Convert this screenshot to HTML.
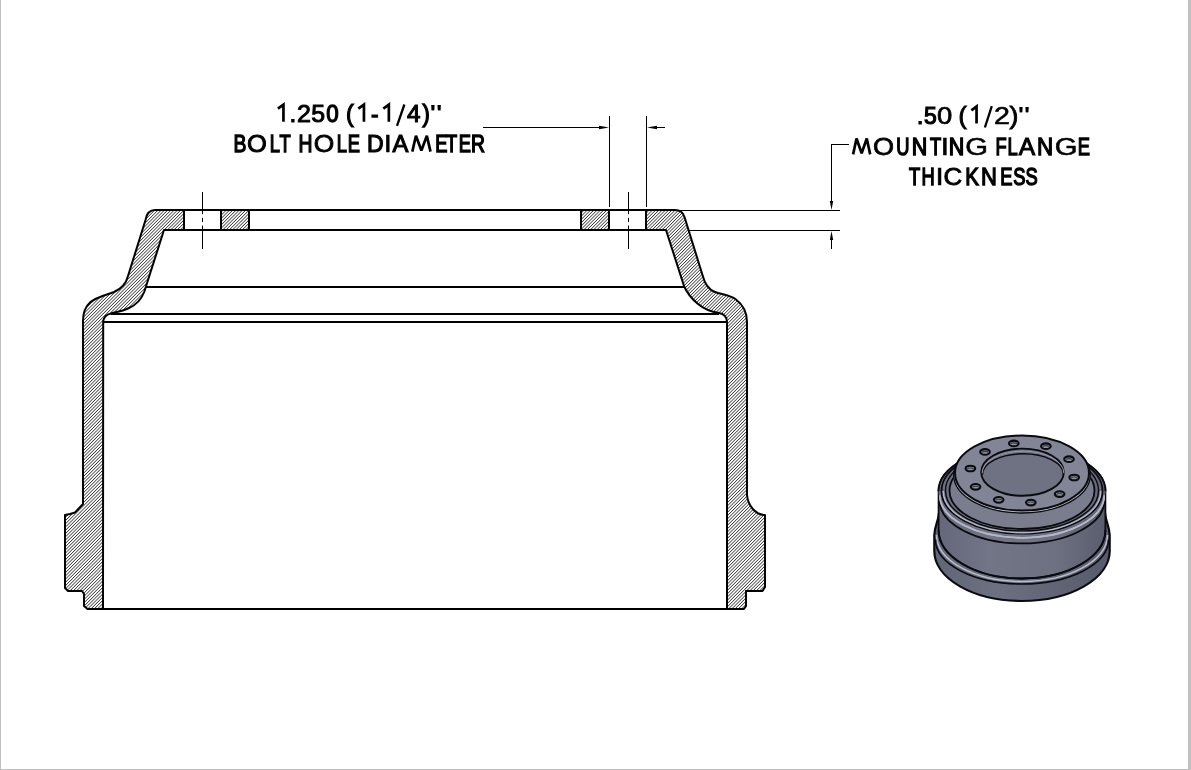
<!DOCTYPE html>
<html><head><meta charset="utf-8">
<style>
html,body{margin:0;padding:0;background:#fff;}
body{width:1191px;height:770px;overflow:hidden;position:relative;}
svg{position:absolute;left:0;top:0;}
.tx text{font-family:"Liberation Sans",sans-serif;font-size:24.4px;fill:#000;stroke:#000;stroke-width:1.05px;vector-effect:non-scaling-stroke;}
</style></head><body>
<svg width="1191" height="770" viewBox="0 0 1191 770">
<defs>
<pattern id="h" patternUnits="userSpaceOnUse" width="2.3" height="2.3" patternTransform="rotate(-45)">
<rect width="2.3" height="2.3" fill="#fff"/>
<rect x="0" y="0" width="2.3" height="0.65" fill="#111"/>
</pattern>
</defs>
<!-- frame -->
<rect x="0" y="0" width="1" height="770" fill="#c0c0c0"/>
<rect x="1188" y="0" width="3" height="770" fill="#c0c0c0"/>
<rect x="0" y="769" width="1191" height="1" fill="#c0c0c0"/>

<g stroke="#000" stroke-width="2" fill="none" stroke-linejoin="round">
<!-- left wall -->
<path fill="url(#h)" d="M156,210 L184,210 L184,230 L164,230 L144.2,292 C141,300 136,305 129,308 C122,311.5 115,312.3 111,313.4 C107,314.5 104,316.5 103.2,321 L103,609 L87.5,609 L84,606 L84,594 L82,591 L68,591 L65,588 L65,515 L70,514 L75,512.5 L83,504 L83,321 C83,313 85,307 90,302.5 C96,297 106,295 114,292 C121,289 126,284 128,276 L145.5,220 C146.5,214 149,210 155,210 Z"/>
<!-- right wall -->
<path fill="url(#h)" d="M646,210 L675,210 C680,210 683,212 684.5,217 L702.5,275 C704.5,283 708,289.5 715,292 C722,294.5 730,295 736,299.5 C742,304 747,312 747,322 L747,495 C748,505 755,515 765,515 L765,587 L762.5,591 L746,591 L746,606 L744,609 L727,609 L727,322 C727,317 724,314 719,313 C712,312 704,309 698,304 C692,299 687,293 684,286 L666,230 L646,230 Z"/>
<rect x="221" y="210" width="28" height="20" fill="url(#h)"/>
<rect x="581" y="210" width="28" height="20" fill="url(#h)"/>
<line x1="184" y1="210" x2="646" y2="210"/>
<line x1="184" y1="230" x2="646" y2="230"/>
<line x1="146" y1="287" x2="684" y2="287"/>
<line x1="110.5" y1="314" x2="719" y2="314"/>
<line x1="103" y1="322" x2="727" y2="322"/>
<line x1="103" y1="609" x2="727" y2="609"/>
</g>
<g stroke="#000" stroke-width="1" fill="none">
<line x1="202.5" y1="192" x2="202.5" y2="214.2"/><line x1="202.5" y1="217.8" x2="202.5" y2="222"/><line x1="202.5" y1="225.6" x2="202.5" y2="249"/>
<line x1="628.5" y1="192" x2="628.5" y2="214.2"/><line x1="628.5" y1="217.8" x2="628.5" y2="222"/><line x1="628.5" y1="225.6" x2="628.5" y2="249"/>
<line x1="609.5" y1="116" x2="609.5" y2="207"/>
<line x1="646.5" y1="116" x2="646.5" y2="207"/>
<line x1="483" y1="127.5" x2="600" y2="127.5"/>
<line x1="656" y1="127.5" x2="665" y2="127.5"/>
<line x1="677" y1="210.5" x2="840" y2="210.5"/>
<line x1="688" y1="230.5" x2="840" y2="230.5"/>
<line x1="831.5" y1="144.5" x2="831.5" y2="201"/>
<line x1="831" y1="144.5" x2="849" y2="144.5"/>
<line x1="831.5" y1="240" x2="831.5" y2="249"/>
</g>
<g fill="#000">
<path d="M599,125.8 L609,127.5 L599,129.2 Z"/>
<path d="M657,125.8 L647,127.5 L657,129.2 Z"/>
<path d="M829.8,201 L831.5,210 L833.2,201 Z"/>
<path d="M829.8,240 L831.5,231 L833.2,240 Z"/>
</g>

<g class="tx" opacity="0.999">
<path d="M283.45,121.80 L283.45,104.70 L277.90,108.70" stroke="#000" stroke-width="2.7" fill="none" stroke-linejoin="miter"/>
<text transform="translate(289.51,121.80) scale(1.000,1)" style="stroke-width:1.06px">.</text>
<text transform="translate(297.04,121.80) scale(1.026,1)" style="stroke-width:1.00px">2</text>
<text transform="translate(311.30,121.80) scale(1.020,1)" style="stroke-width:1.02px">5</text>
<text transform="translate(326.13,121.80) scale(0.917,1)" style="stroke-width:1.25px">0</text>
<text transform="translate(345.95,121.80) scale(0.958,1)" style="stroke-width:1.15px">(</text>
<path d="M363.95,121.80 L363.95,104.70 L358.30,108.70" stroke="#000" stroke-width="2.7" fill="none" stroke-linejoin="miter"/>
<text transform="translate(370.90,121.80) scale(0.923,1)" style="stroke-width:1.23px">-</text>
<path d="M388.85,121.80 L388.85,104.70 L383.30,108.70" stroke="#000" stroke-width="2.7" fill="none" stroke-linejoin="miter"/>
<path d="M404.40,104.50 L397.00,125.80" stroke="#000" stroke-width="2.3" fill="none"/>
<text transform="translate(406.94,121.80) scale(0.992,1)" style="stroke-width:1.08px">4</text>
<text transform="translate(422.47,121.80) scale(0.897,1)" style="stroke-width:1.29px">)</text>
<text transform="translate(429.79,121.80) scale(1.457,1)" style="stroke-width:0.25px">&quot;</text>
<text transform="translate(233.61,151.80) scale(0.793,1)" style="stroke-width:1.30px">B</text>
<text transform="translate(247.09,151.80) scale(1.045,1)" style="stroke-width:0.96px">O</text>
<text transform="translate(269.80,151.80) scale(0.750,1)" style="stroke-width:1.30px">L</text>
<text transform="translate(279.59,151.80) scale(0.750,1)" style="stroke-width:1.30px">T</text>
<text transform="translate(298.61,151.80) scale(0.792,1)" style="stroke-width:1.30px">H</text>
<text transform="translate(313.65,151.80) scale(1.081,1)" style="stroke-width:0.88px">O</text>
<text transform="translate(336.80,151.80) scale(0.750,1)" style="stroke-width:1.30px">L</text>
<text transform="translate(347.80,151.80) scale(0.750,1)" style="stroke-width:1.30px">E</text>
<text transform="translate(367.12,151.80) scale(0.941,1)" style="stroke-width:1.19px">D</text>
<text transform="translate(383.83,151.80) scale(1.187,1)" style="stroke-width:0.64px">I</text>
<text transform="translate(392.45,151.80) scale(0.977,1)" style="stroke-width:1.11px">A</text>
<path d="M412.31,151.60 L415.95,135.75 L421.40,150.45 L426.85,135.75 L430.49,151.60" stroke="#000" stroke-width="2.7" fill="none" stroke-linejoin="miter" stroke-miterlimit="2"/>
<text transform="translate(435.20,151.80) scale(0.750,1)" style="stroke-width:1.30px">E</text>
<text transform="translate(446.09,151.80) scale(0.750,1)" style="stroke-width:1.30px">T</text>
<text transform="translate(458.70,151.80) scale(0.750,1)" style="stroke-width:1.30px">E</text>
<text transform="translate(471.11,151.80) scale(0.794,1)" style="stroke-width:1.30px">R</text>
<text transform="translate(916.71,123.50) scale(1.000,1)" style="stroke-width:1.06px">.</text>
<text transform="translate(924.08,123.50) scale(0.942,1)" style="stroke-width:1.19px">5</text>
<text transform="translate(937.03,123.50) scale(1.123,1)" style="stroke-width:0.78px">0</text>
<text transform="translate(958.48,123.50) scale(1.005,1)" style="stroke-width:1.05px">(</text>
<path d="M976.55,123.50 L976.55,106.40 L971.40,110.40" stroke="#000" stroke-width="2.7" fill="none" stroke-linejoin="miter"/>
<path d="M991.80,106.20 L984.90,127.50" stroke="#000" stroke-width="2.3" fill="none"/>
<text transform="translate(994.06,123.50) scale(1.170,1)" style="stroke-width:0.68px">2</text>
<text transform="translate(1009.44,123.50) scale(1.097,1)" style="stroke-width:0.84px">)</text>
<text transform="translate(1018.05,123.50) scale(1.396,1)" style="stroke-width:0.25px">&quot;</text>
<path d="M853.12,154.40 L856.53,138.55 L861.65,153.25 L866.77,138.55 L870.19,154.40" stroke="#000" stroke-width="2.7" fill="none" stroke-linejoin="miter" stroke-miterlimit="2"/>
<text transform="translate(872.92,154.60) scale(1.111,1)" style="stroke-width:0.81px">O</text>
<text transform="translate(896.29,154.60) scale(0.750,1)" style="stroke-width:1.30px">U</text>
<text transform="translate(911.74,154.60) scale(0.880,1)" style="stroke-width:1.30px">N</text>
<text transform="translate(930.09,154.60) scale(0.750,1)" style="stroke-width:1.30px">T</text>
<text transform="translate(941.03,154.60) scale(1.143,1)" style="stroke-width:0.74px">I</text>
<text transform="translate(948.84,154.60) scale(0.880,1)" style="stroke-width:1.30px">N</text>
<text transform="translate(965.33,154.60) scale(1.199,1)" style="stroke-width:0.61px">G</text>
<text transform="translate(995.40,154.60) scale(0.750,1)" style="stroke-width:1.30px">F</text>
<text transform="translate(1007.40,154.60) scale(0.750,1)" style="stroke-width:1.30px">L</text>
<text transform="translate(1018.65,154.60) scale(1.007,1)" style="stroke-width:1.04px">A</text>
<text transform="translate(1037.06,154.60) scale(0.917,1)" style="stroke-width:1.25px">N</text>
<text transform="translate(1054.83,154.60) scale(1.199,1)" style="stroke-width:0.61px">G</text>
<text transform="translate(1077.80,154.60) scale(0.750,1)" style="stroke-width:1.30px">E</text>
<text transform="translate(908.99,184.70) scale(0.750,1)" style="stroke-width:1.30px">T</text>
<text transform="translate(921.40,184.70) scale(0.750,1)" style="stroke-width:1.30px">H</text>
<text transform="translate(935.33,184.70) scale(1.274,1)" style="stroke-width:0.45px">I</text>
<text transform="translate(943.38,184.70) scale(1.061,1)" style="stroke-width:0.92px">C</text>
<text transform="translate(965.33,184.70) scale(0.836,1)" style="stroke-width:1.30px">K</text>
<text transform="translate(981.09,184.70) scale(0.902,1)" style="stroke-width:1.28px">N</text>
<text transform="translate(1000.20,184.70) scale(0.750,1)" style="stroke-width:1.30px">E</text>
<text transform="translate(1013.17,184.70) scale(0.750,1)" style="stroke-width:1.30px">S</text>
<text transform="translate(1025.57,184.70) scale(0.750,1)" style="stroke-width:1.30px">S</text>
</g>
<defs>
<linearGradient id="gbody" x1="0" y1="0" x2="1" y2="0">
<stop offset="0" stop-color="#65687a"/><stop offset="0.3" stop-color="#727586"/><stop offset="0.7" stop-color="#6e7182"/><stop offset="1" stop-color="#5a5d6d"/>
</linearGradient>
<linearGradient id="glip" x1="0" y1="0" x2="1" y2="0">
<stop offset="0" stop-color="#626576"/><stop offset="0.35" stop-color="#6d7081"/><stop offset="1" stop-color="#575a6a"/>
</linearGradient>
<linearGradient id="gsh" x1="0" y1="0" x2="1" y2="0">
<stop offset="0" stop-color="#6c6f80"/><stop offset="0.4" stop-color="#7b7e8e"/><stop offset="1" stop-color="#666979"/>
</linearGradient>
</defs>
<path d="M938.8,514 C938.3,521 934.6,526 934.3,535 L934.3,551 A87.7,50 0 0 0 1109.7,551 L1109.7,535 C1109.4,526 1105.7,521 1105.2,514 Z" fill="url(#glip)" stroke="#0a0a10" stroke-width="2.2"/>
<path d="M938.6,491.3 A83.4,44 0 0 1 1105.4,491.3 L1105.4,530 A83.4,48.5 0 0 1 938.6,530 Z" fill="url(#gbody)" stroke="#0a0a10" stroke-width="1.8"/>
<path d="M938.6,530 A83.4,48.5 0 0 0 1105.4,530" fill="none" stroke="#0a0a10" stroke-width="1.8"/>
<path d="M936.5,535 A85.5,46.5 0 0 0 1107.5,535" fill="none" stroke="#b9bccb" stroke-width="1.6"/>
<path d="M935.5,539.6 A86.5,44.4 0 0 0 1108.5,539.6" fill="none" stroke="#0a0a10" stroke-width="1.6"/>
<path d="M939.4,500 A82.6,43.5 0 0 0 1104.6,500" fill="none" stroke="#0a0a10" stroke-width="1.8"/>
<path d="M939.8,495.3 A82.2,42.5 0 0 0 1104.2,495.3" fill="none" stroke="#b4b7c6" stroke-width="1.7"/>
<ellipse cx="1022" cy="491.3" rx="83.5" ry="44" fill="url(#gsh)" stroke="none"/>
<path d="M938.5,491.3 A83.5,44 0 0 1 1105.5,491.3" fill="none" stroke="#0a0a10" stroke-width="2.0"/>
<path d="M939.8,495.3 A82.2,42.5 0 0 0 1104.2,495.3" fill="none" stroke="#b4b7c6" stroke-width="1.7"/>
<ellipse cx="1022" cy="490.9" rx="80.5" ry="42.7" fill="url(#gsh)" stroke="#0a0a10" stroke-width="1.8"/>
<path d="M943.2,490.9 A78.8,41.8 0 0 0 1100.8,490.9" fill="none" stroke="#b4b7c6" stroke-width="1.5"/>
<ellipse cx="1022" cy="490.4" rx="76.5" ry="40.5" fill="url(#gsh)" stroke="#0a0a10" stroke-width="1.4"/>
<ellipse cx="1022" cy="490.6" rx="72.5" ry="38.4" fill="#7a7d8d" stroke="#0a0a10" stroke-width="1.8"/>
<ellipse cx="1022" cy="475" rx="68.3" ry="38" fill="#c0c2d0" stroke="#0a0a10" stroke-width="1.3"/>
<ellipse cx="1022" cy="473" rx="67" ry="37.5" fill="#828596" stroke="#0a0a10" stroke-width="2.0"/>
<ellipse cx="1022.5" cy="472.2" rx="41.3" ry="23.6" fill="#6f7282" stroke="#0a0a10" stroke-width="1.9"/>
<path d="M982.5,474.5 A40.5,20.7 0 0 1 1063.5,474.5" fill="none" stroke="#0a0a10" stroke-width="1.5"/>
<path d="M982.1,473.3 A40.9,22.2 0 0 1 1063.9,473.3" fill="none" stroke="#9a9cab" stroke-width="1.0"/>
<ellipse cx="1074.2" cy="477.5" rx="4.8" ry="2.8" fill="#8e909e" stroke="#0a0a10" stroke-width="2.1"/>
<path d="M1071.0,478.1 A3.4,1.7 0 0 1 1077.4,478.1" fill="none" stroke="#3a3c48" stroke-width="1.1"/>
<ellipse cx="1059.6" cy="494.1" rx="4.8" ry="2.8" fill="#8e909e" stroke="#0a0a10" stroke-width="2.1"/>
<path d="M1056.4,494.7 A3.4,1.7 0 0 1 1062.8,494.7" fill="none" stroke="#3a3c48" stroke-width="1.1"/>
<ellipse cx="1030.8" cy="502.6" rx="4.8" ry="2.8" fill="#8e909e" stroke="#0a0a10" stroke-width="2.1"/>
<path d="M1027.6,503.2 A3.4,1.7 0 0 1 1034.0,503.2" fill="none" stroke="#3a3c48" stroke-width="1.1"/>
<ellipse cx="998.7" cy="499.8" rx="4.8" ry="2.8" fill="#8e909e" stroke="#0a0a10" stroke-width="2.1"/>
<path d="M995.5,500.4 A3.4,1.7 0 0 1 1001.9,500.4" fill="none" stroke="#3a3c48" stroke-width="1.1"/>
<ellipse cx="975.6" cy="486.8" rx="4.8" ry="2.8" fill="#8e909e" stroke="#0a0a10" stroke-width="2.1"/>
<path d="M972.4,487.4 A3.4,1.7 0 0 1 978.8,487.4" fill="none" stroke="#3a3c48" stroke-width="1.1"/>
<ellipse cx="970.4" cy="468.5" rx="4.8" ry="2.8" fill="#8e909e" stroke="#0a0a10" stroke-width="2.1"/>
<path d="M967.2,469.1 A3.4,1.7 0 0 1 973.6,469.1" fill="none" stroke="#3a3c48" stroke-width="1.1"/>
<ellipse cx="985.0" cy="451.9" rx="4.8" ry="2.8" fill="#8e909e" stroke="#0a0a10" stroke-width="2.1"/>
<path d="M981.8,452.5 A3.4,1.7 0 0 1 988.2,452.5" fill="none" stroke="#3a3c48" stroke-width="1.1"/>
<ellipse cx="1013.8" cy="443.4" rx="4.8" ry="2.8" fill="#8e909e" stroke="#0a0a10" stroke-width="2.1"/>
<path d="M1010.6,444.0 A3.4,1.7 0 0 1 1017.0,444.0" fill="none" stroke="#3a3c48" stroke-width="1.1"/>
<ellipse cx="1045.9" cy="446.2" rx="4.8" ry="2.8" fill="#8e909e" stroke="#0a0a10" stroke-width="2.1"/>
<path d="M1042.7,446.8 A3.4,1.7 0 0 1 1049.1,446.8" fill="none" stroke="#3a3c48" stroke-width="1.1"/>
<ellipse cx="1069.0" cy="459.2" rx="4.8" ry="2.8" fill="#8e909e" stroke="#0a0a10" stroke-width="2.1"/>
<path d="M1065.8,459.8 A3.4,1.7 0 0 1 1072.2,459.8" fill="none" stroke="#3a3c48" stroke-width="1.1"/>
</svg>
</body></html>
